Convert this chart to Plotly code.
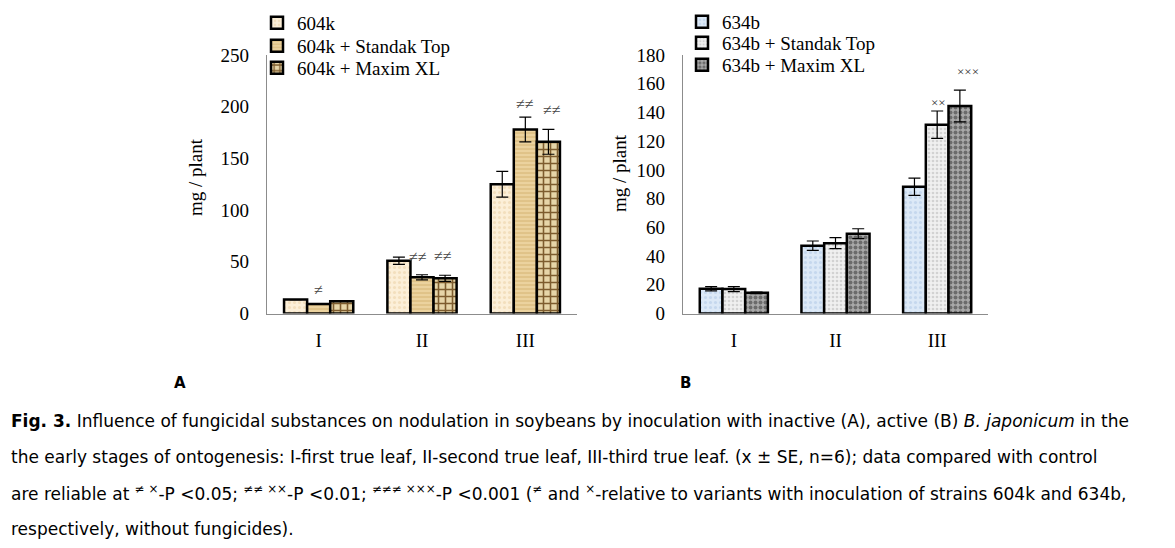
import plotly.graph_objects as go

# ---------------- data ----------------
categories = ["I", "II", "III"]

names_a = ["604k", "604k + Standak Top", "604k + Maxim XL"]
vals_a_604k = [13.5, 51, 125]
vals_a_standak = [9.3, 35, 178]
vals_a_maxim = [11.8, 34, 166]
err_a_604k = [0, 3.5, 12.5]
err_a_standak = [0, 2.5, 12]
err_a_maxim = [0, 3, 12]

names_b = ["634b", "634b + Standak Top", "634b + Maxim XL"]
vals_b_634b = [17.2, 47.2, 88.2]
vals_b_standak = [17.0, 49, 131.5]
vals_b_maxim = [14.4, 55.6, 144.5]
err_b_634b = [1.5, 3.3, 6]
err_b_standak = [1.7, 3.8, 9.5]
err_b_maxim = [0.5, 3.4, 11]

yticks_a = [0, 50, 100, 150, 200, 250]
yticks_b = [0, 20, 40, 60, 80, 100, 120, 140, 160, 180]

# significance marks: (panel, category index, series index, text, xshift, yshift)
marks = [
    ("A", 0, 1, "≠", 0, 14),
    ("A", 1, 1, "≠≠", -4, 18),
    ("A", 1, 2, "≠≠", -2, 20),
    ("A", 2, 1, "≠≠", 0, 14),
    ("A", 2, 2, "≠≠", 4, 20),
    ("B", 2, 1, "××", 1, 9),
    ("B", 2, 2, "×××", 8, 19),
]

caption_lines = [
    "<b>Fig. 3.</b> Influence of fungicidal substances on nodulation in soybeans by inoculation with inactive (A), active (B) <i>B. japonicum</i> in the",
    "the early stages of ontogenesis: I-first true leaf, II-second true leaf, III-third true leaf. (x ± SE, n=6); data compared with control",
    "are reliable at <sup>≠ ×</sup>-P &lt;0.05; <sup>≠≠ ××</sup>-P &lt;0.01; <sup>≠≠≠ ×××</sup>-P &lt;0.001 (<sup>≠</sup> and <sup>×</sup>-relative to variants with inoculation of strains 604k and 634b,",
    "respectively, without fungicides).",
]

# ---------------- styles ----------------
W, H = 1175, 548
OFF = 8  # page body margin
serif = "Liberation Serif, Times New Roman, serif"
sans = "DejaVu Sans, Verdana, sans-serif"

styles_a = [
    dict(bgcolor="#fcefd8", fgcolor="#f3dfbd", shape=".", size=5, solidity=0.3),
    dict(bgcolor="#ebd29e", fgcolor="#d6b473", shape="-", size=4, solidity=0.25),
    dict(bgcolor="#e6d5a8", fgcolor="#7d5c2e", shape="+", size=7, solidity=0.4),
]
styles_b = [
    dict(bgcolor="#dce9f7", fgcolor="#c5d8ee", shape=".", size=5, solidity=0.3),
    dict(bgcolor="#f0f0f0", fgcolor="#d2d2d2", shape=".", size=4, solidity=0.35),
    dict(bgcolor="#a9a9a9", fgcolor="#6b6b6b", shape=".", size=5, solidity=0.5),
]


def px(xp):
    return (xp - OFF) / W


def py(yp):
    return 1 - (yp - OFF) / H


fig = go.Figure()

series_a = list(zip(names_a, [vals_a_604k, vals_a_standak, vals_a_maxim],
                    [err_a_604k, err_a_standak, err_a_maxim], styles_a))
series_b = list(zip(names_b, [vals_b_634b, vals_b_standak, vals_b_maxim],
                    [err_b_634b, err_b_standak, err_b_maxim], styles_b))

legend_rows_a = [23, 46, 68]
legend_rows_b = [22, 43, 65]
legend_layout = {}
lg_idx = 1


def add_series(series, xa, ya, rows, lx):
    global lg_idx
    for (name, vals, errs, st), row in zip(series, rows):
        key = "legend" if lg_idx == 1 else f"legend{lg_idx}"
        fig.add_trace(go.Bar(
            x=categories, y=vals, name=name, xaxis=xa, yaxis=ya, legend=key,
            marker=dict(color=st["bgcolor"], line=dict(color="black", width=2.5),
                        pattern=dict(fillmode="replace", **st)),
            error_y=dict(type="data", array=errs, visible=True, color="black",
                         thickness=1.2, width=6),
        ))
        legend_layout[key] = dict(
            x=px(lx), y=py(row), xanchor="left", yanchor="middle",
            font=dict(family=serif, size=19, color="black"),
            bgcolor="rgba(0,0,0,0)", itemwidth=30, borderwidth=0)
        lg_idx += 1


add_series(series_a, "x", "y", legend_rows_a, 257)
add_series(series_b, "x2", "y2", legend_rows_b, 682)

ydom = [py(313.5), py(55)]
common_x = dict(showgrid=False, showline=True, linecolor="#8c8c8c", linewidth=1.2,
                ticks="", tickfont=dict(family=serif, size=19, color="black"),
                ticklabelstandoff=10, zeroline=False, fixedrange=True)
common_y = dict(showgrid=False, showline=True, linecolor="#8c8c8c", linewidth=1.2,
                ticks="", tickfont=dict(family=serif, size=19, color="black"),
                ticklabelstandoff=13, zeroline=False, fixedrange=True)

fig.update_layout(
    width=W, height=H,
    margin=dict(l=0, r=0, t=0, b=0, autoexpand=False),
    paper_bgcolor="white", plot_bgcolor="white",
    barmode="group", bargap=0.33, bargroupgap=0,
    xaxis=dict(domain=[px(267), px(577)], anchor="y", **common_x),
    yaxis=dict(domain=ydom, anchor="x", range=[0, 250], tickvals=yticks_a, **common_y),
    xaxis2=dict(domain=[px(683), px(988)], anchor="y2", **common_x),
    yaxis2=dict(domain=ydom, anchor="x2", range=[0, 180], tickvals=yticks_b, **common_y),
    showlegend=True,
    **legend_layout,
)

annotations = []
# y-axis titles
annotations.append(dict(text="mg / plant", x=px(196), y=py(177), xref="paper", yref="paper",
                        xanchor="center", yanchor="middle",
                        textangle=-90, showarrow=False,
                        font=dict(family=serif, size=19, color="black")))
annotations.append(dict(text="mg / plant", x=px(619), y=py(173), xref="paper", yref="paper",
                        xanchor="center", yanchor="middle",
                        textangle=-90, showarrow=False,
                        font=dict(family=serif, size=19, color="black")))

# significance marks
bar_px = 23
for panel, ci, si, txt, xs, ys in marks:
    if panel == "A":
        vals, errs = series_a[si][1], series_a[si][2]
        xr, yr = "x", "y"
        col, fs = "#444444", 16
    else:
        vals, errs = series_b[si][1], series_b[si][2]
        xr, yr = "x2", "y2"
        col, fs = "#333333", 13
    annotations.append(dict(
        text=txt, x=categories[ci], y=vals[ci] + errs[ci], xref=xr, yref=yr,
        xshift=(si - 1) * bar_px + xs, yshift=ys, showarrow=False,
        xanchor="center", yanchor="middle", font=dict(family=serif, size=fs, color=col)))

# panel letters
annotations.append(dict(text="<b>A</b>", x=px(180), y=py(383), xref="paper", yref="paper",
                        xanchor="center", yanchor="middle",
                        showarrow=False, font=dict(family=sans, size=15, color="black")))
annotations.append(dict(text="<b>B</b>", x=px(685), y=py(383), xref="paper", yref="paper",
                        xanchor="center", yanchor="middle",
                        showarrow=False, font=dict(family=sans, size=15, color="black")))

# caption
line_y = [421, 457, 493, 529]
for txt, yy in zip(caption_lines, line_y):
    annotations.append(dict(text=txt, x=px(9), y=py(yy), xref="paper", yref="paper",
                            xanchor="left", yanchor="middle", showarrow=False, align="left",
                            font=dict(family=sans, size=17, color="black")))

fig.update_layout(annotations=annotations)

fig.write_html("out.html")
